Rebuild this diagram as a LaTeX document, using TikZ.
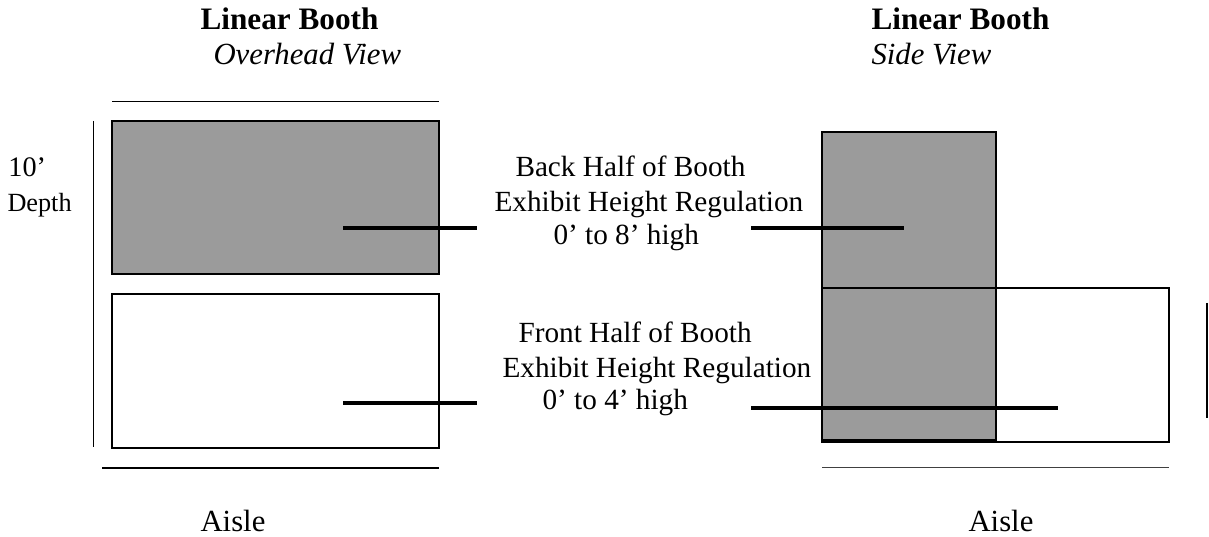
\documentclass[tikz,border=0pt]{standalone}
\usepackage{fontspec}
\setmainfont{Liberation Serif}
\definecolor{boothgray}{RGB}{155,155,155}
\tikzset{
    booth/.style={draw, line width=0.8pt},
    leader/.style={line width=1.6pt},
    label/.style={inner sep=0pt, anchor=base west, font=\fontsize{11.7}{14}\selectfont},
    title/.style={inner sep=0pt, anchor=base west, font=\fontsize{12.5}{15}\selectfont\bfseries},
    subtitle/.style={inner sep=0pt, anchor=base west, font=\fontsize{12.3}{15}\selectfont\itshape}
}
\begin{document}
\begin{tikzpicture}[x=0.4pt,y=-0.4pt]
    \useasboundingbox (0,0) rectangle (1209,537);

    % overhead view
    \node[title] (T1) at (200,30) {Linear Booth};
    \node[subtitle] (S1) at (213,65) {Overhead View};

    \coordinate (A) at (112,121);
    \coordinate (B) at (439,274);
    \coordinate (C) at (112,294);
    \coordinate (D) at (439,448);
    \draw[booth, fill=boothgray] (A) rectangle (B);
    \draw[booth] (C) rectangle (D);

    \coordinate (E) at (112,102);
    \coordinate (F) at (439,102);
    \draw[line width=0.4pt] (E) -- (F);
    \coordinate (G) at (102,468);
    \coordinate (H) at (439,468);
    \draw[line width=0.6pt] (G) -- (H);
    \coordinate (I) at (93,121);
    \coordinate (J) at (93,447);
    \draw[line width=0.4pt] (I) -- (J);

    \node[label, font=\fontsize{11.3}{14}\selectfont] (ten) at (8,177) {10’};
    \node[label, font=\fontsize{10.5}{13}\selectfont] (depth) at (7,212) {Depth};

    \coordinate (K) at (343,228);
    \coordinate (L) at (477,228);
    \draw[leader] (K) -- (L);
    \coordinate (M) at (343,403);
    \coordinate (N) at (477,403);
    \draw[leader] (M) -- (N);

    \node[label, font=\fontsize{12.3}{15}\selectfont] (aisle1) at (200,532) {Aisle};

    % middle texts
    \node[label] (back1) at (515,177) {Back Half of Booth};
    \node[label] (back2) at (494,212) {Exhibit Height Regulation};
    \node[label] (back3) at (553,245) {0’ to 8’ high};
    \node[label] (front1) at (518,343) {Front Half of Booth};
    \node[label] (front2) at (502,378) {Exhibit Height Regulation};
    \node[label] (front3) at (542,410) {0’ to 4’ high};

    % side view
    \node[title] (T2) at (871,30) {Linear Booth};
    \node[subtitle] (S2) at (871,65) {Side View};

    \coordinate (P) at (822,132);
    \coordinate (Q) at (996,440);
    \coordinate (R) at (822,288);
    \coordinate (S) at (1169,442);
    \draw[booth, fill=boothgray] (P) rectangle (Q);
    \draw[booth] (R) rectangle (S);

    \coordinate (U) at (751,228);
    \coordinate (V) at (904,228);
    \draw[leader] (U) -- (V);
    \coordinate (W) at (751,408);
    \coordinate (X) at (1058,408);
    \draw[leader] (W) -- (X);

    \coordinate (Y) at (1207,303);
    \coordinate (Z) at (1207,418);
    \draw[line width=0.8pt] (Y) -- (Z);
    \coordinate (O) at (822,468);
    \coordinate (O2) at (1169,468);
    \draw[line width=0.4pt, black!75] (O) -- (O2);

    \node[label, font=\fontsize{12.3}{15}\selectfont] (aisle2) at (968,532) {Aisle};
\end{tikzpicture}
\end{document}
